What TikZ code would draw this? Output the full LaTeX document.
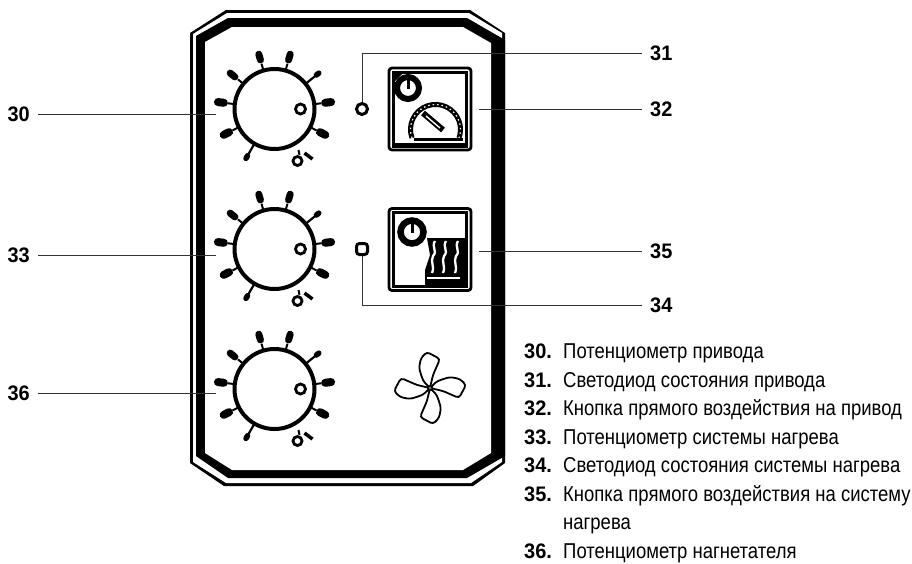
\documentclass[tikz,border=0pt]{standalone}
\usepackage{fontspec}
\setmainfont[FakeStretch=0.86]{Liberation Sans}
\newfontfamily\numfont[FakeStretch=0.95]{Liberation Sans}
\tikzset{
  knobring/.style={circle,draw,line width=4pt,inner sep=0pt,minimum size=80pt},
  knobdot/.style={circle,draw,line width=2.8pt,inner sep=0pt,minimum size=10pt},
  ledmark/.style={circle,draw,line width=3pt,inner sep=0pt,minimum size=11pt},
  keybox/.style={rectangle,rounded corners=3pt,draw,line width=2.8pt,inner sep=0pt,minimum size=82pt},
  refnum/.style={font=\fontsize{21}{21}\selectfont\numfont\bfseries},
  leader/.style={line width=1pt,black!80},
  listnum/.style={anchor=base west,inner sep=0pt,font=\fontsize{21}{21}\selectfont\numfont\bfseries},
  listtext/.style={anchor=base west,inner sep=0pt,font=\fontsize{21.5}{21.5}\selectfont}
}
\begin{document}
\begin{tikzpicture}[x=1pt,y=-1pt]
  \useasboundingbox (0,0) rectangle (912,563);
  % frame
  \fill (190,33) -- (226,10) -- (470,10) -- (505,33) -- (505,463) -- (473,486) -- (224,486) -- (190,463) -- cycle;
  \fill[white] (193,34) -- (227,13) -- (469,13) -- (502,33) -- (502,462) -- (471,483) -- (226,483) -- (193,462) -- cycle;
  \fill (196,36) -- (228,18) -- (467,18) -- (505,40) -- (505,456) -- (467,478) -- (228,478) -- (196,456) -- cycle;
  \fill[white] (205,42) -- (232,27) -- (463,27) -- (491,43) -- (491,453) -- (463,470) -- (232,470) -- (205,453) -- cycle;
  % knobs
  \node[knobring] (k1) at (274.5,109) {};
  \node[knobring] (k2) at (274.5,249) {};
  \node[knobring] (k3) at (274.5,389) {};
  \foreach \k in {k1,k2,k3} {
    \begin{scope}[shift={(\k)}]
      \node[knobdot] (d\k) at (26,0) {};
      \foreach \a/\s/\w in {-106/47/7,-74/47/7,-141/47/7,-7/47/8,27/47/8,153/47/8,-173/47/8} {
        \draw[line width=2pt] (\a:40) -- (\a:\s);
        \draw[line width=\w pt,line cap=round] (\a:\s+4) -- (\a:\s+10);
      }
      \foreach \a in {-39,120} {
        \draw[line width=2.2pt] (\a:40) -- (\a:54);
        \draw[line width=5.5pt,line cap=round] (\a:54) -- (\a:57);
      }
      \draw[line width=2pt] (24,41) -- (25,46);
      \draw[line width=2.8pt] (23,52) circle (4.5);
      \draw[line width=3.5pt] (30,44) -- (38,50);
    \end{scope}
  }
  % status lights
  \node[ledmark] (led1) at (362,109) {};
  \node[ledmark,rectangle,rounded corners=3pt,minimum size=11pt] (led2) at (362,249) {};
  % keys
  \node[keybox] (key1) at (430,109) {};
  \node[keybox] (key2) at (430,249.5) {};
  \draw[line width=3pt] (393,72) rectangle (466,146);
  \draw[line width=3pt] (393,212.5) rectangle (466,286);
  \fill (393,72) -- (404,72) -- (393,83) -- cycle;
  \draw[line width=6pt] (408,88) circle (11);
  \draw[line width=3pt] (408,78) -- (408,89);
  \draw[line width=5pt] (412,138) arc (160:380:25);
  \draw[white,line width=1.2pt,dash pattern=on 1.5pt off 3pt] (412,138) arc (160:380:25);
  \draw[line width=3pt] (414,139.5) -- (463,139.5);
  \draw[line width=6pt] (423,113) -- (443,130);
  \draw[white,line width=1.4pt] (426,116) -- (440,128);
  \fill (393,143) rectangle (466,146);
  % heater
  \draw[line width=6.5pt] (412,232) circle (11.5);
  \draw[line width=3pt] (412,222) -- (412,233);
  \fill (427,238) -- (466,238) -- (466,287) -- (425,287) -- (425,270) -- (430,255) -- cycle;
  \foreach \x in {435,446,458} {
    \draw[white,line width=2.3pt] (\x,241) .. controls (\x-4,247) and (\x+3,251) .. (\x-2,256) .. controls (\x-5,262) and (\x,266) .. (\x-3,273);
  }
  \draw[white,line width=1.5pt] (427,278) -- (460,278);
  % fan
  \begin{scope}[shift={(430,388)}]
    \foreach \a in {0,90,180,270} {
      \draw[line width=1.8pt,rounded corners=3pt,rotate=\a] (0,0) .. controls (-7,-7) .. (-11,-20) -- (-9,-30) -- (-3,-36) -- (10,-29) -- (3,-13) -- cycle;
    }
  \end{scope}
  % labels and leaders
  \node[refnum,anchor=east,inner xsep=8pt] (l30) at (38,114) {30};
  \node[refnum,anchor=east,inner xsep=8pt] (l33) at (38,255) {33};
  \node[refnum,anchor=east,inner xsep=8pt] (l36) at (38,393) {36};
  \node[refnum,anchor=west,inner xsep=8pt] (l31) at (642,53) {31};
  \node[refnum,anchor=west,inner xsep=8pt] (l32) at (642,109) {32};
  \node[refnum,anchor=west,inner xsep=8pt] (l35) at (642,251) {35};
  \node[refnum,anchor=west,inner xsep=8pt] (l34) at (642,305) {34};
  \coordinate (c30) at (216,114);
  \coordinate (c33) at (216,255);
  \coordinate (c36) at (216,393);
  \coordinate (c32) at (479,109);
  \coordinate (c35) at (479,251);
  \draw[leader] (l30) -- (c30);
  \draw[leader] (l33) -- (c33);
  \draw[leader] (l36) -- (c36);
  \draw[leader] (l32) -- (c32);
  \draw[leader] (l35) -- (c35);
  \draw[leader] (led1) |- (l31);
  \draw[leader] (led2) |- (l34);
  % legend
  \foreach \n/\y/\s in {30/358/Потенциометр привода,
                        31/387/Светодиод состояния привода,
                        32/415/Кнопка прямого воздействия на привод,
                        33/444/Потенциометр системы нагрева,
                        34/472/Светодиод состояния системы нагрева,
                        35/501/Кнопка прямого воздействия на систему,
                        36/558/Потенциометр нагнетателя} {
    \node[listnum] (n\n) at (524,\y) {\n.};
    \node[listtext] (t\n) at (563,\y) {\s};
  }
  \node[listtext] (t35b) at (563,529) {нагрева};
\end{tikzpicture}
\end{document}
